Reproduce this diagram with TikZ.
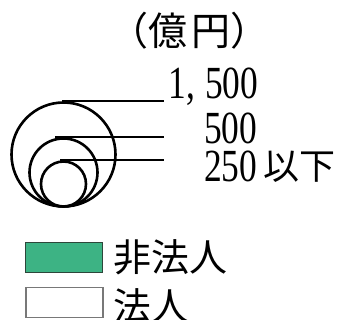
\documentclass[tikz,border=0pt]{standalone}
\usepackage{graphicx}
\usepackage{fontspec}
\newfontfamily\jp{Noto Sans CJK JP}
\newfontfamily\numf{Liberation Serif}
\definecolor{legendgreen}{RGB}{61,179,132}
\definecolor{greenedge}{RGB}{45,70,58}
\definecolor{greyedge}{RGB}{120,120,120}
\newcommand\numtxt[1]{\scalebox{0.77}[1]{\numf\fontsize{46}{46}\selectfont #1}}
\begin{document}
\begin{tikzpicture}[x=1pt,y=-1pt,
  ring/.style={circle,draw=black,line width=2.6pt,inner sep=0pt,minimum size=#1},
  lead/.style={line width=1.6pt},
  lbl/.style={anchor=base west,inner sep=0pt},
  jpfont/.style={font=\jp\fontsize{#1}{#1}\selectfont},
  legbox/.style={anchor=north west,inner sep=0pt,minimum width=77pt,minimum height=30pt}]
\useasboundingbox (0,0) rectangle (343,320);
% circles
\node[ring=104pt] (big) at (63.5,154.5) {};
\node[ring=68pt]  (mid) at (63.5,172.5) {};
\node[ring=45pt]  (small) at (63.5,184) {};
% end points of leaders
\coordinate (e1) at (164,103);
\coordinate (e2) at (164,137.7);
\coordinate (e3) at (164,161.7);
\draw[lead] ([xshift=-1.5pt]big.north) -- (big.north -| e1);
\draw[lead] ([xshift=-8.5pt]mid.north) -- (mid.north -| e2);
\draw[lead] ([xshift=-3.5pt]small.north) -- (small.north -| e3);
% title
\node[lbl,jpfont=39] (title) at (109.5,45.5) {（億\kern4pt 円）};
% values
\node[anchor=base east,inner sep=0pt] (v1) at (258.5,98.3) {\numtxt{1,\kern13pt 500}};
\node[lbl] (v2) at (204,143.5) {\numtxt{500}};
\node[lbl] (v3) at (204,181.7) {\numtxt{250}\kern6pt\raisebox{2pt}{\jp\fontsize{36}{36}\selectfont 以下}};
% legend
\node[legbox,fill=legendgreen,draw=greenedge,line width=1pt] (lg1) at (25,241.7) {};
\node[legbox,fill=white,draw=greyedge,line width=1.5pt] (lg2) at (25,286.7) {};
\node[lbl,jpfont=38] (t1) at (113.5,272) {非法人};
\node[lbl,jpfont=38] (t2) at (113.5,321) {法人};
\end{tikzpicture}
\end{document}
